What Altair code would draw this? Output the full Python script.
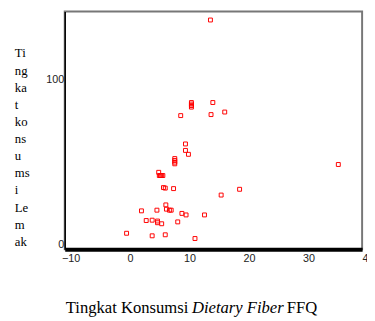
import altair as alt
import pandas as pd

# Scatter data (x = dietary fiber FFQ, y = fat consumption)
fiber = [14.5, 11.3, 11.3, 11.3, 11.3, 14.9, 16.9, 14.6, 9.5, 10.3, 10.3, 10.8,
         8.5, 8.5, 8.5, 8.5, 5.8, 5.9, 6.1, 6.3, 6.5, 6.6, 6.9, 8.3, 16.3, 19.4,
         36.0, 2.9, 5.5, 7.0, 7.1, 7.6, 7.9, 9.7, 10.4, 13.5, 3.7, 4.7, 5.6, 5.6,
         6.3, 9.0, 0.4, 4.7, 6.9, 11.9]
fat = [135.0, 83.7, 84.6, 85.5, 86.4, 86.4, 80.8, 79.3, 78.7, 62.0, 58.2, 55.9,
       50.3, 51.3, 52.3, 53.4, 45.3, 43.4, 43.4, 43.4, 43.4, 36.3, 36.0, 35.7, 31.9, 35.3,
       49.9, 22.6, 23.0, 26.1, 23.6, 23.0, 23.0, 21.1, 20.2, 20.2, 16.9, 17.1, 16.6, 15.6,
       15.0, 16.1, 9.4, 7.9, 8.5, 6.3]

x_ticks = [-10, 0, 10, 20, 30, 40]
y_ticks = [0, 100]
y_title_lines = ["Ti", "ng", "ka", "t", "ko", "ns", "u", "ms", "i", "Le", "m", "ak"]
x_title_parts = ["Tingkat Konsumsi", "Dietary Fiber", "FFQ"]

df = pd.DataFrame({"fiber": fiber, "fat": fat})
one = pd.DataFrame({"a": [0]})

points = alt.Chart(df).mark_point(
    shape="square", filled=False, size=16, strokeWidth=1, color="#ff0000", opacity=1
).encode(
    x=alt.X("fiber:Q",
            scale=alt.Scale(domain=[-10, 40], nice=False, zero=False),
            axis=alt.Axis(values=x_ticks, title=None, grid=False, ticks=False,
                          domainColor="black", domainWidth=4, labelOffset=6,
                          labelPadding=4, labelFlush=False, labelFont="Liberation Sans",
                          labelFontSize=11, labelColor="#222")),
    y=alt.Y("fat:Q",
            scale=alt.Scale(domain=[0, 140], nice=False, zero=False),
            axis=alt.Axis(values=y_ticks, title=None, grid=False, ticks=False,
                          domainColor="black", domainWidth=1.5, labelPadding=1,
                          labelFlush=True, labelFont="Liberation Sans",
                          labelFontSize=11, labelColor="#222")),
)

ytitle = alt.Chart(one).mark_text(
    text=y_title_lines, align="left", baseline="middle", lineHeight=17.5,
    font="Liberation Serif", fontSize=13, color="black"
).encode(x=alt.value(-51), y=alt.value(43))

t1 = alt.Chart(one).mark_text(
    text=x_title_parts[0], align="left", baseline="middle",
    font="Liberation Serif", fontSize=17, color="black"
).encode(x=alt.value(1), y=alt.value(303))
t2 = alt.Chart(one).mark_text(
    text=x_title_parts[1], align="left", baseline="middle", fontStyle="italic",
    font="Liberation Serif", fontSize=17, color="black"
).encode(x=alt.value(130), y=alt.value(303))
t3 = alt.Chart(one).mark_text(
    text=x_title_parts[2], align="left", baseline="middle",
    font="Liberation Serif", fontSize=17, color="black"
).encode(x=alt.value(227), y=alt.value(303))

chart = alt.layer(points, ytitle, t1, t2, t3).properties(
    width=304, height=243,
    autosize=alt.AutoSizeParams(type="none"),
    padding={"left": 58, "top": 0, "right": 5, "bottom": 80},
).configure_view(stroke="#777777", strokeWidth=2)

chart.save("out.html", embed_options={"renderer": "svg", "actions": False})
